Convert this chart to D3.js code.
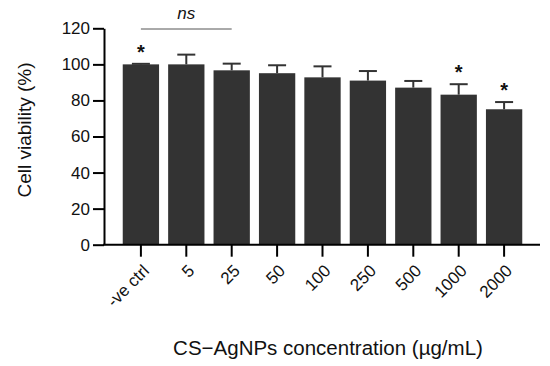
<!DOCTYPE html>
<html><head><meta charset="utf-8">
<script src="https://cdn.jsdelivr.net/npm/d3@7"></script>
<style>body{margin:0;background:#fff;} text{font-family:"Liberation Sans",Arial,sans-serif;}</style>
</head><body>
<svg id="c" width="550" height="366"></svg>
<script>
const categories = ["-ve ctrl","5","25","50","100","250","500","1000","2000"];
const viability = [100, 100, 96.7, 95.1, 92.8, 91.0, 87.1, 83.2, 75.1];
const errorTop = [100.3, 105.4, 100.4, 99.5, 98.9, 96.3, 90.8, 89.0, 79.1];
const significant = [true, false, false, false, false, false, false, true, true];
const yTicks = [0, 20, 40, 60, 80, 100, 120];

const svg = d3.select("#c");
const y = d3.scaleLinear().domain([0,120]).range([244.7, 28.3]);
const x = d3.scaleBand().domain(categories).range([118.2, 526.8]).paddingInner(0.2).paddingOuter(0.1);

// bars
svg.selectAll("rect.bar").data(categories).join("rect")
  .attr("x", d => x(d)).attr("width", x.bandwidth())
  .attr("y", (d,i) => y(viability[i])).attr("height", (d,i) => y(0) - y(viability[i]))
  .attr("fill", "#333333");

// error bars
const eb = svg.append("g").attr("stroke", "#333333").attr("stroke-width", 2);
categories.forEach((d,i) => {
  const cx = x(d) + x.bandwidth()/2;
  eb.append("line").attr("x1", cx).attr("x2", cx).attr("y1", y(viability[i])).attr("y2", y(errorTop[i]));
  eb.append("line").attr("x1", cx-9).attr("x2", cx+9).attr("y1", y(errorTop[i])).attr("y2", y(errorTop[i]));
});

// y axis
const ya = svg.append("g").attr("transform", "translate(104,0)")
  .call(d3.axisLeft(y).tickValues(yTicks).tickSize(11).tickPadding(3).tickSizeOuter(0));
ya.select(".domain").attr("stroke", "#000").attr("stroke-width", 2);
ya.selectAll(".tick line").attr("stroke", "#000").attr("stroke-width", 2);
ya.selectAll(".tick text").attr("font-size", 17).attr("fill", "#111").attr("font-family", "Liberation Sans, Arial, sans-serif");

// x axis
const xa = svg.append("g").attr("transform", "translate(0," + y(0) + ")")
  .call(d3.axisBottom(x).tickSize(12).tickSizeOuter(0));
xa.select(".domain").remove();
xa.append("line").attr("x1", 103).attr("x2", 540).attr("y1", 0).attr("y2", 0).attr("stroke", "#000").attr("stroke-width", 2);
xa.selectAll(".tick line").attr("stroke", "#000").attr("stroke-width", 2);
xa.selectAll(".tick text")
  .attr("font-size", 17).attr("fill", "#111").attr("font-family", "Liberation Sans, Arial, sans-serif")
  .attr("text-anchor", "end").attr("dy", "0.35em")
  .attr("transform", "translate(5,23) rotate(-45)").attr("x", 0).attr("y", 0);

// asterisks
categories.forEach((d,i) => {
  if (!significant[i]) return;
  const cx = x(d) + x.bandwidth()/2;
  svg.append("text").attr("x", cx).attr("y", y(errorTop[i]) - 5).attr("text-anchor", "middle")
    .attr("font-size", 20).attr("font-weight", "bold").attr("fill", "#111").text("*");
});

// ns bracket
const x1 = x(categories[0]) + x.bandwidth()/2, x2 = x(categories[2]) + x.bandwidth()/2;
svg.append("line").attr("x1", x1).attr("x2", x2).attr("y1", 29).attr("y2", 29).attr("stroke", "#555").attr("stroke-width", 1);
svg.append("text").attr("x", (x1+x2)/2).attr("y", 19).attr("text-anchor", "middle")
  .attr("font-size", 17).attr("font-style", "italic").attr("fill", "#111").text("ns");

// axis titles
svg.append("text").attr("transform", "translate(31,130) rotate(-90)").attr("text-anchor", "middle")
  .attr("font-size", 19).attr("fill", "#111").text("Cell viability (%)");
svg.append("text").attr("x", 328).attr("y", 355).attr("text-anchor", "middle")
  .attr("font-size", 20.5).attr("fill", "#111").text("CS\u2212AgNPs concentration (\u00b5g/mL)");
</script>
</body></html>
